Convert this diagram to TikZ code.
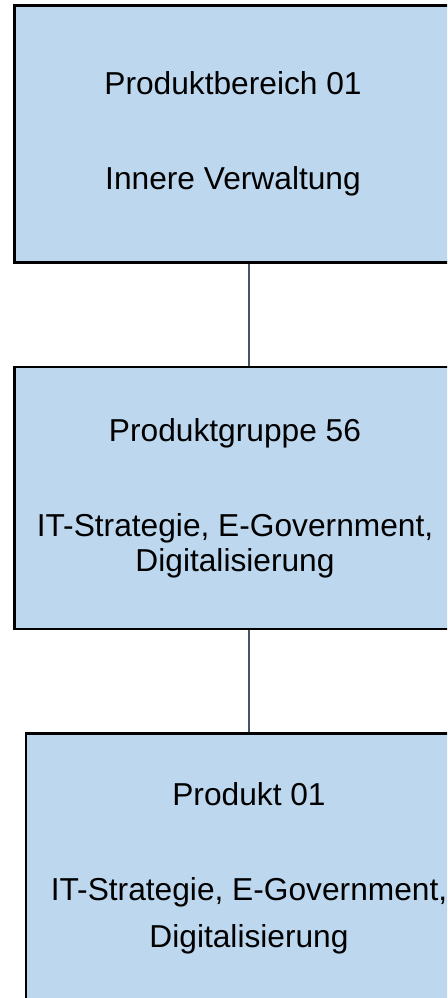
\documentclass[tikz,border=0pt]{standalone}
\usepackage{fontspec}
\setmainfont{Liberation Sans}
\definecolor{boxblue}{RGB}{189,215,238}
\definecolor{linkgray}{RGB}{68,84,106}
\begin{document}
\begin{tikzpicture}[x=1pt, y=-1pt,
    pbox/.style={draw=black, line width=2.5pt, fill=boxblue, align=center,
        inner sep=0pt, font=\fontsize{31.7}{35}\selectfont},
    link/.style={draw=linkgray, line width=1.5pt}]
    \useasboundingbox (0,0) rectangle (447,998);
    \clip (0,0) rectangle (447,998);

    \node[pbox, minimum width=437pt, minimum height=257pt] (bereich) at (233,134)
        {Produktbereich 01\\[60pt]Innere Verwaltung};
    \node[pbox, minimum width=441pt, minimum height=262pt] (gruppe) at (235,498)
        {Produktgruppe 56\\[60pt]IT-Strategie, E-Government,\\Digitalisierung};
    \node[pbox, minimum width=446pt, minimum height=270pt] (produkt) at (249,868.5)
        {Produkt 01\\[60pt]IT-Strategie, E-Government,\\[12pt]Digitalisierung};

    \draw[link] (bereich.south -| produkt.center) -- (gruppe.north -| produkt.center);
    \draw[link] (gruppe.south -| produkt.center) -- (produkt.north);

\end{tikzpicture}
\end{document}
